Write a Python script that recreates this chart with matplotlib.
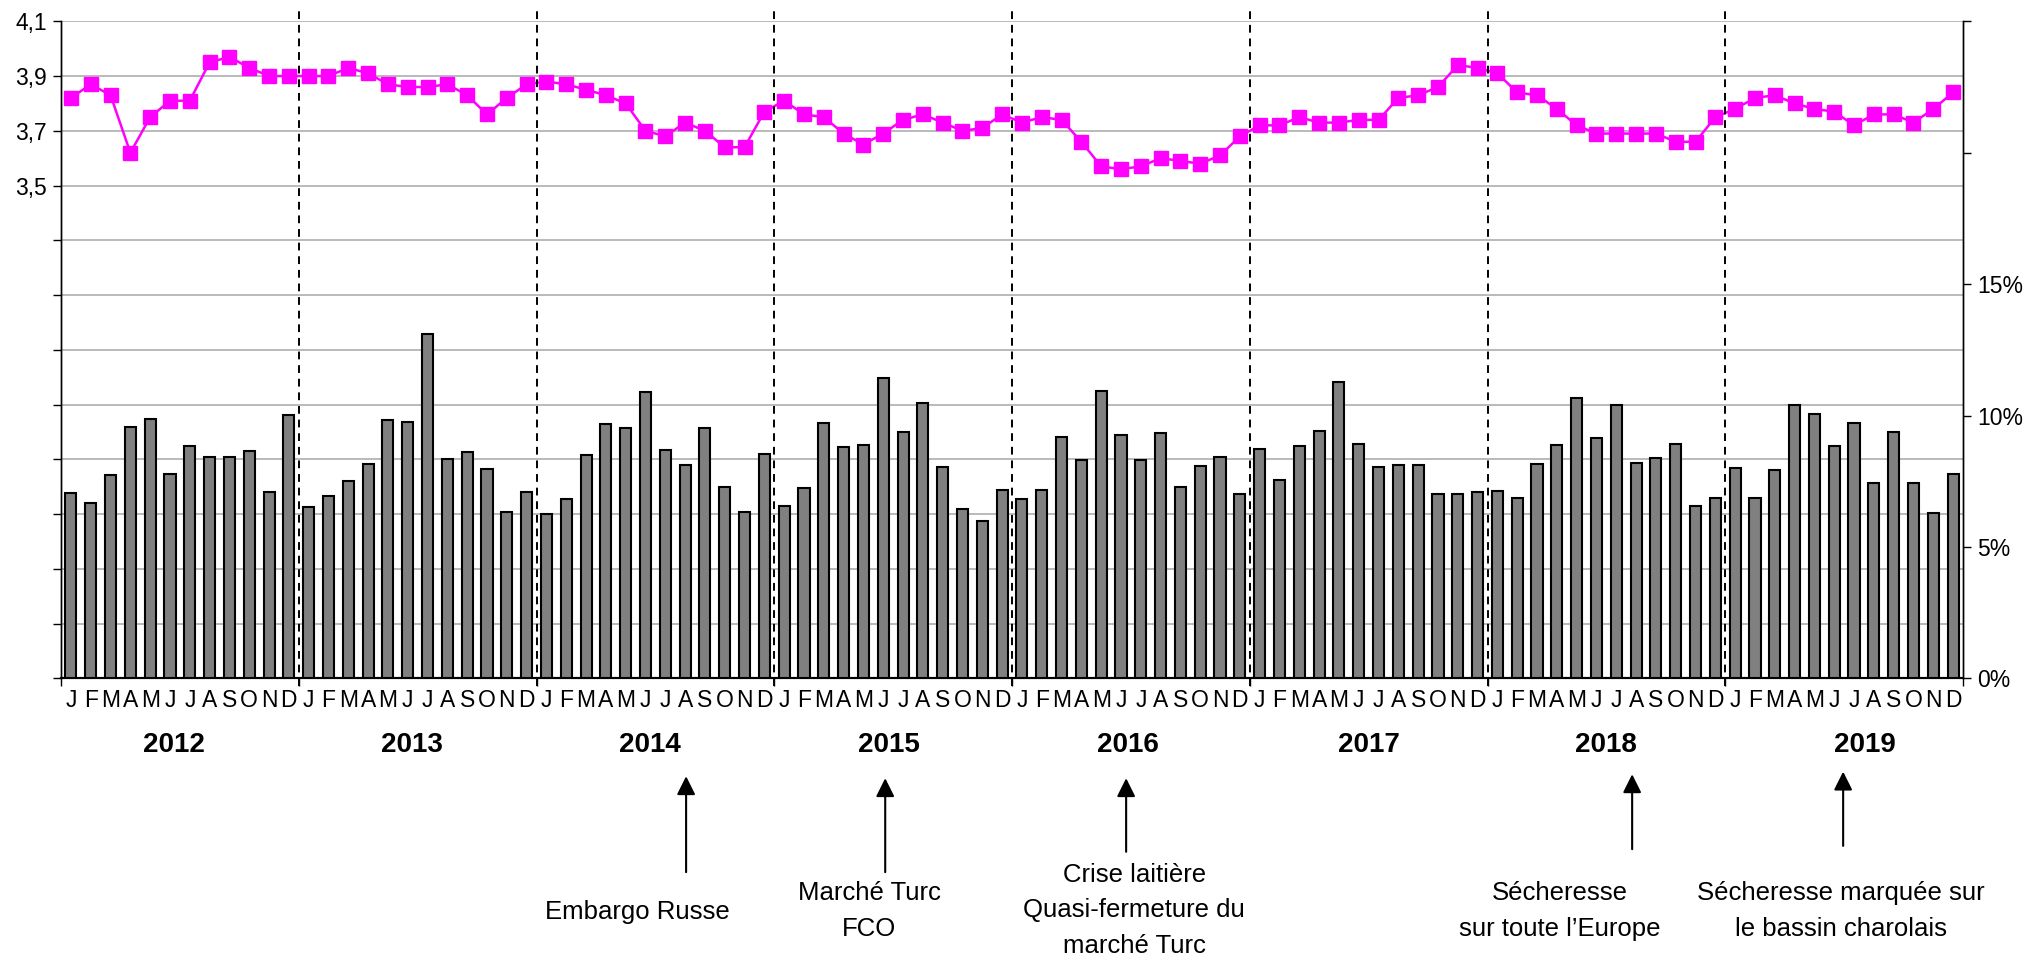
import matplotlib
matplotlib.use("Agg")
import matplotlib.pyplot as plt
import numpy as np
from matplotlib.ticker import FixedLocator, FuncFormatter

plt.rcParams['font.family'] = ['Liberation Sans Narrow', 'Liberation Sans', 'DejaVu Sans']

years = ['2012', '2013', '2014', '2015', '2016', '2017', '2018', '2019']
month_letters = ['J', 'F', 'M', 'A', 'M', 'J', 'J', 'A', 'S', 'O', 'N', 'D']

# line: left axis (price)
price = [3.82, 3.87, 3.83, 3.62, 3.75, 3.81, 3.81, 3.95, 3.97, 3.93, 3.90, 3.90,
         3.90, 3.90, 3.93, 3.91, 3.87, 3.86, 3.86, 3.87, 3.83, 3.76, 3.82, 3.87,
         3.88, 3.87, 3.85, 3.83, 3.80, 3.70, 3.68, 3.73, 3.70, 3.64, 3.64, 3.77,
         3.81, 3.76, 3.75, 3.69, 3.65, 3.69, 3.74, 3.76, 3.73, 3.70, 3.71, 3.76,
         3.73, 3.75, 3.74, 3.66, 3.57, 3.56, 3.57, 3.60, 3.59, 3.58, 3.61, 3.68,
         3.72, 3.72, 3.75, 3.73, 3.73, 3.74, 3.74, 3.82, 3.83, 3.86, 3.94, 3.93,
         3.91, 3.84, 3.83, 3.78, 3.72, 3.69, 3.69, 3.69, 3.69, 3.66, 3.66, 3.75,
         3.78, 3.82, 3.83, 3.80, 3.78, 3.77, 3.72, 3.76, 3.76, 3.73, 3.78, 3.84]

# bars: right axis (%)
share = [7.04, 6.66, 7.74, 9.58, 9.87, 7.79, 8.84, 8.43, 8.43, 8.64, 7.10, 10.02,
         6.51, 6.94, 7.50, 8.17, 9.82, 9.74, 13.10, 8.33, 8.61, 7.98, 6.33, 7.09,
         6.25, 6.82, 8.48, 9.69, 9.51, 10.89, 8.69, 8.12, 9.52, 7.29, 6.33, 8.52,
         6.57, 7.24, 9.71, 8.79, 8.86, 11.41, 9.39, 10.49, 8.03, 6.44, 5.97, 7.15,
         6.82, 7.18, 9.17, 8.29, 10.94, 9.25, 8.29, 9.33, 7.27, 8.09, 8.43, 7.00,
         8.71, 7.53, 8.83, 9.42, 11.29, 8.90, 8.04, 8.13, 8.13, 7.01, 7.01, 7.09,
         7.11, 6.85, 8.15, 8.89, 10.68, 9.13, 10.39, 8.18, 8.38, 8.93, 6.56, 6.85,
         8.00, 6.86, 7.94, 10.41, 10.06, 8.83, 9.70, 7.44, 9.36, 7.42, 6.30, 7.79]

events = ['Embargo Russe', 'Marché Turc\nFCO', 'Crise laitière\nQuasi-fermeture du\nmarché Turc',
          'Sécheresse\nsur toute l\u2019Europe', 'Sécheresse marquée sur\nle bassin charolais']
event_month = [31.05, 41.1, 53.26, 78.8, 89.45]
text_x = [28.58, 40.29, 53.67, 75.17, 89.35]
text_top = [-0.356, -0.327, -0.299, -0.327, -0.327]
tip_y = [-0.149, -0.152, -0.152, -0.146, -0.142]
tail_y = [-0.295, -0.295, -0.264, -0.260, -0.255]

n = len(price)
x = np.arange(n)

fig = plt.figure(figsize=(20.34, 9.6), dpi=100)
ax = fig.add_axes([0.0300, 0.2934, 0.9351, 0.6844])
ax2 = ax.twinx()

# left axis
ax.set_xlim(-0.5, n - 0.5)
ax.set_ylim(1.7, 4.1)
left_ticks = [1.7, 1.9, 2.1, 2.3, 2.5, 2.7, 2.9, 3.1, 3.3, 3.5, 3.7, 3.9, 4.1]
ax.yaxis.set_major_locator(FixedLocator(left_ticks))
ax.yaxis.set_major_formatter(FuncFormatter(
    lambda v, p: f"{v:.1f}".replace('.', ',') if v > 3.45 else ''))
ax.grid(axis='y', color='#b4b4b4', linewidth=1.3)
ax.set_axisbelow(True)
ax.tick_params(axis='y', direction='out', length=6, width=1, labelsize=16.5, pad=4)
ax.plot(x, price, color='#ff00ff', linewidth=1.8, marker='s', markersize=10.5,
        markeredgecolor='#ff00ff', zorder=5)

# bars on right axis
ax2.set_ylim(0, 25)
ax2.bar(x, share, width=0.56, color='#808080', edgecolor='black', linewidth=1.5, zorder=3)
ax2.yaxis.set_major_locator(FixedLocator([0, 5, 10, 15, 20, 25]))
ax2.yaxis.set_major_formatter(FuncFormatter(lambda v, p: f"{v:.0f}%" if v < 16 else ''))
ax2.tick_params(axis='y', direction='out', length=6, width=1, labelsize=16.5, pad=4)

# x axis: ticks at year boundaries only
bounds = [12 * i - 0.5 for i in range(len(years) + 1)]
ax.xaxis.set_major_locator(FixedLocator(bounds))
ax.tick_params(axis='x', direction='out', length=6, width=1, labelbottom=False)
ax2.tick_params(axis='x', length=0)

for a in (ax, ax2):
    a.spines['top'].set_visible(False)
    for s in ('left', 'right', 'bottom'):
        a.spines[s].set_color('black')
        a.spines[s].set_linewidth(1.0)
ax.spines['bottom'].set_linewidth(1.5)
ax2.spines['bottom'].set_linewidth(1.5)

# dashed year separators
trans = ax.get_xaxis_transform()
for b in bounds[1:-1]:
    ax2.plot([b, b], [-0.011, 1.017], transform=trans, color='black',
             linestyle=(0, (4, 3)), linewidth=1.4, clip_on=False, zorder=6)

# month and year labels
for i in range(n):
    ax.text(i, -0.033, month_letters[i % 12], transform=trans, ha='center',
            va='center', fontsize=16.5)
year_pos = [5.2, 5.2, 5.2, 5.3, 5.35, 5.5, 5.5, 6.55]
for k, yr in enumerate(years):
    ax.text(12 * k + year_pos[k], -0.101, yr, transform=trans, ha='center',
            va='center', fontsize=20, fontweight='bold')

# event annotations
for k, ev in enumerate(events):
    ax.annotate('', xy=(event_month[k], tip_y[k]), xycoords=trans,
                xytext=(event_month[k], tail_y[k]), textcoords=trans,
                arrowprops=dict(arrowstyle='-|>', color='black', lw=1.5,
                                mutation_scale=28, shrinkA=0, shrinkB=0))
    for j, ln in enumerate(ev.split('\n')):
        ax.text(text_x[k], text_top[k] - 0.054 * j, ln, transform=trans, ha='center',
                va='center', fontsize=18.5)

fig.savefig('out.png', dpi=100)
